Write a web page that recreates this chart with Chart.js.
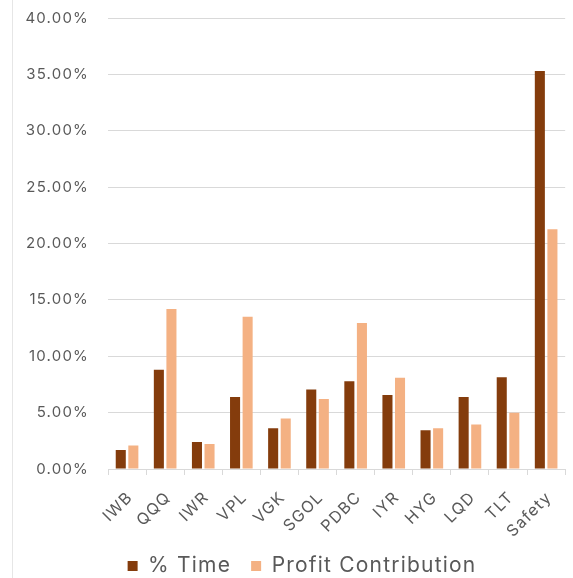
<!DOCTYPE html>
<html><head><meta charset="utf-8">
<script src="https://cdn.jsdelivr.net/npm/chart.js@4/dist/chart.umd.min.js"></script>
<style>html,body{margin:0;padding:0;background:#fff}#wrap{width:573px;height:578px;position:relative}</style>
</head><body><div id="wrap"><canvas id="c" width="573" height="578"></canvas></div>
<script>
const categories = ["IWB","QQQ","IWR","VPL","VGK","SGOL","PDBC","IYR","HYG","LQD","TLT","Safety"];
const timePct = [1.69, 8.81, 2.40, 6.38, 3.62, 7.06, 7.78, 6.56, 3.44, 6.38, 8.13, 35.3];
const profitPct = [2.08, 14.18, 2.22, 13.5, 4.48, 6.2, 12.94, 8.1, 3.62, 3.95, 5.0, 21.26];
const seriesNames = ["% Time", "Profit Contribution"];
const yTicks = [0,5,10,15,20,25,30,35,40];

const LEGEND_RESERVED = 20;
function spacing(chart){ try{ chart.ctx.letterSpacing = '1.2px'; }catch(e){} }
const tweaks = {
  id:'tweaks',
  beforeInit: spacing,
  beforeUpdate(chart){
    spacing(chart);
    const lg = chart.legend;
    if(lg && !lg.__patched){
      const orig = lg.fit;
      lg.fit = function(){ orig.apply(this, arguments); this.height = LEGEND_RESERVED; };
      lg.__patched = true;
    }
  },
  beforeLayout: spacing,
  beforeRender: spacing,
  afterUpdate(chart){
    const lg = chart.legend;
    if(!lg) return;
    const pad = lg.options.labels.padding;
    const ih = (lg.options.labels.font.size||21)*1.2;
    const newTop = 568 - pad - ih/2;
    const dy = newTop - lg.top;
    lg.top += dy; lg.bottom = lg.top + 60;
    lg.left += 19; lg.right += 19;
  },
  beforeDraw(chart){
    spacing(chart);
    const ctx = chart.ctx;
    ctx.save();
    ctx.strokeStyle = '#e6e6e6';
    ctx.lineWidth = 1;
    ctx.beginPath(); ctx.moveTo(12.5,0); ctx.lineTo(12.5,578); ctx.stroke();
    ctx.restore();
  }
};

new Chart(document.getElementById('c'), {
  type:'bar',
  data:{
    labels:categories,
    datasets:[
      {label:seriesNames[0], data:timePct, backgroundColor:'#843C0C', barPercentage:0.8, categoryPercentage:0.66},
      {label:seriesNames[1], data:profitPct, backgroundColor:'#F4B183', barPercentage:0.8, categoryPercentage:0.66}
    ]
  },
  options:{
    responsive:false, animation:false,
    layout:{padding:{top:18, right:7, left:0, bottom:0}},
    plugins:{
      legend:{position:'bottom', labels:{boxWidth:10, boxHeight:10, padding:20, color:'#595959', font:{family:'Inter', size:21}}},
      tooltip:{enabled:false}
    },
    scales:{
      x:{
        afterFit(s){ s.height = 578 - 469 - LEGEND_RESERVED; },
        grid:{display:true, drawOnChartArea:false, drawTicks:true, tickLength:6, color:'#d9d9d9', offset:true},
        border:{display:true, color:'#d9d9d9'},
        ticks:{color:'#595959', font:{family:'Inter', size:16}, maxRotation:45, minRotation:45, padding:13, labelOffset:3}
      },
      y:{
        min:0, max:40,
        afterFit(s){ s.width = 108; },
        afterBuildTicks(s){ s.ticks = yTicks.map(v=>({value:v})); },
        grid:{color:'#d9d9d9', drawTicks:true, tickLength:19, tickColor:'rgba(0,0,0,0)'},
        border:{display:false},
        ticks:{color:'#595959', padding:0, font:{family:'Inter', size:15}, callback:v=>v.toFixed(2)+'%'}
      }
    }
  },
  plugins:[tweaks]
});
</script></body></html>
